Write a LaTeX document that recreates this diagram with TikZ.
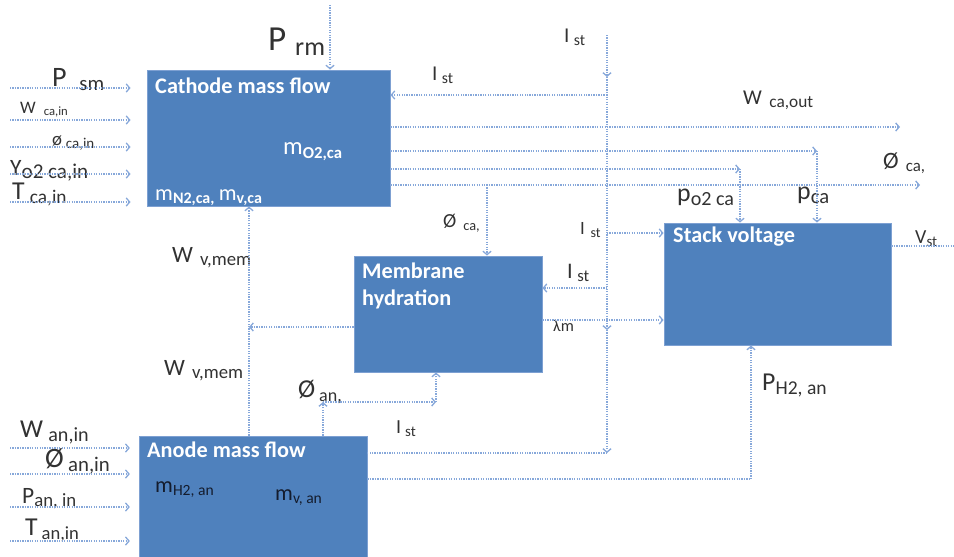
\documentclass[tikz,border=0pt]{standalone}
\usepackage{fontspec}
\setmainfont{Carlito}
\usetikzlibrary{arrows.meta,calc}
\definecolor{BlkFill}{RGB}{79,129,189}
\definecolor{BlkLine}{RGB}{125,160,210}
\definecolor{SigLine}{RGB}{135,168,218}
\definecolor{LblText}{RGB}{50,50,50}
\definecolor{InText} {RGB}{20,28,45}
\tikzset{
  nd_blk/.style={
    rectangle, draw=BlkLine, fill=BlkFill, line width=0.8pt, inner sep=0pt},
  nd_ttl/.style={
    anchor=base west, inner sep=0pt, text=white, align=left,
    font=\fontsize{19}{23}\selectfont\bfseries},
  nd_var/.style={
    anchor=base west, inner sep=0pt, text=white,
    font=\fontsize{21}{23}\selectfont},
  lbl/.style={anchor=base west, inner sep=0pt, text=LblText},
  sig/.style={draw=SigLine, densely dotted, line width=1.1pt},
  arr/.style={sig, -{Straight Barb[length=3pt,width=7pt]}},
}
\newcommand{\signame}[3][0.75]{#2\raisebox{-0.35ex}{\scalebox{#1}{#3}}}
\newcommand{\fs}[1]{\fontsize{#1}{#1}\selectfont}

\begin{document}
\begin{tikzpicture}[x=0.3mm,y=-0.3mm]
\useasboundingbox (0,0) rectangle (954,556);

%% blocks
\node[nd_blk, minimum width=72.9mm, minimum height=40.8mm] (CMF) at (268.5,138) {};
\node[nd_blk, minimum width=56.4mm, minimum height=34.8mm] (MH)  at (448,314) {};
\node[nd_blk, minimum width=68.1mm, minimum height=36.6mm] (SV)  at (777.5,284) {};
\node[nd_blk, minimum width=68.4mm, minimum height=37.2mm] (AMF) at (253,498) {};

\node[nd_ttl] (tCMF) at (155,93)  {Cathode mass flow};
\node[nd_ttl, anchor=north west] (tMH) at (362,263) {Membrane\\hydration};
\node[nd_ttl] (tSV)  at (673,242) {Stack voltage};
\node[nd_ttl] (tAMF) at (147,457) {Anode mass flow};

\node[nd_var] (mO2) at (283,154) {\signame[0.68]{m}{\bfseries O2,ca}};
\node[nd_var, font=\fs{19}] (mN2) at (155,200)
  {\signame[0.72]{m}{\bfseries N2,ca,}\hspace{0.2em}\signame[0.72]{m}{\bfseries v,ca}};
\node[nd_var, text=InText, font=\fs{19}] (mH2) at (155,492) {\signame[0.7]{m}{H2, an}};
\node[nd_var, text=InText, font=\fs{19}] (mvan) at (275,500) {\signame[0.7]{m}{v, an}};

%% free ends
\coordinate (eP)   at (10,88);
\coordinate (eW)   at (10,120);
\coordinate (ePh)  at (10,147);
\coordinate (eY)   at (10,174);
\coordinate (eT)   at (10,202);
\coordinate (eWa)  at (10,448);
\coordinate (ePha) at (10,474);
\coordinate (ePa)  at (10,507);
\coordinate (eTa)  at (10,541);
\coordinate (eRm)  at (330,5);
\coordinate (eIst) at (607,35);
\coordinate (eWo)  at (900,127);
\coordinate (eCa)  at (920,185);
\coordinate (eVst) at (954,246);

%% junctions
\coordinate (jI1) at (607,77);
\coordinate (jI2) at (607,330);
\coordinate (jI3) at (607,453);
\coordinate (jpca) at (817,151);
\coordinate (jpo)  at (740,169);
\coordinate (jca)  at (487,185);
\coordinate (jwm)  at (249,327);
\coordinate (jan1) at (323,402);
\coordinate (jan2) at (436,402);
\coordinate (jH2)  at (751,479);

%% labels
\node[lbl, font=\fs{30}] (lPrm)  at (268,50)  {\signame[0.74]{P\hspace{0.25em}}{rm}};
\node[lbl, font=\fs{24}] (lPsm)  at (52,86)   {\signame[0.74]{P\hspace{0.45em}}{sm}};
\node[lbl, font=\fs{15}] (lWin)  at (20,113)  {\signame[0.72]{W\hspace{0.45em}}{ca,in}};
\node[lbl, font=\fs{16}] (lPhin) at (52,145)  {\signame[0.8]{ø\hspace{0.2em}}{ca,in}};
\node[lbl, font=\fs{20}] (lYin)  at (10,175)  {\signame[0.9]{Y}{o2 ca,in}};
\node[lbl, font=\fs{22}] (lTin)  at (12,199)  {\signame[0.75]{T\hspace{0.2em}}{ca,in}};
\node[lbl, font=\fs{18}] (lI0)   at (564,42)  {\signame{I\hspace{0.2em}}{st}};
\node[lbl, font=\fs{18}] (lI1)   at (432,80)  {\signame{I\hspace{0.2em}}{st}};
\node[lbl, font=\fs{18}] (lWo)   at (743,104) {\signame[0.82]{W\hspace{0.35em}}{ca,out}};
\node[lbl, font=\fs{20}] (lPhca) at (883,168) {\signame[0.72]{Ø\hspace{0.3em}}{ca,}};
\node[lbl, font=\fs{22}] (lpo)   at (677,201) {\signame[0.78]{p}{o2 ca}};
\node[lbl, font=\fs{22}] (lpca)  at (797,199) {\signame[0.8]{p}{ca}};
\node[lbl, font=\fs{17}] (lVst)  at (915,243) {\signame{V}{st}};
\node[lbl, font=\fs{16}] (lI2)   at (580,234) {\signame{I\hspace{0.3em}}{st}};
\node[lbl, font=\fs{19}] (lI3)   at (567,278) {\signame{I\hspace{0.2em}}{st}};
\node[lbl, font=\fs{14}] (llam)  at (553,331) {λm};
\node[lbl, font=\fs{17}] (lPhc2) at (443,227) {\signame[0.72]{Ø\hspace{0.35em}}{ca,}};
\node[lbl, font=\fs{20}] (lWm1)  at (172,262) {\signame[0.8]{W\hspace{0.3em}}{v,mem}};
\node[lbl, font=\fs{20}] (lWm2)  at (164,375) {\signame[0.8]{W\hspace{0.3em}}{v,mem}};
\node[lbl, font=\fs{22}] (lPhan) at (298,397) {\signame[0.7]{Ø\hspace{0.15em}}{an,}};
\node[lbl, font=\fs{17}] (lI4)   at (396,433) {\signame{I\hspace{0.2em}}{st}};
\node[lbl, font=\fs{22}] (lWan)  at (20,437)  {\signame[0.78]{W\hspace{0.2em}}{an,in}};
\node[lbl, font=\fs{24}] (lPhan2) at (45,467) {\signame[0.74]{Ø\hspace{0.15em}}{an,in}};
\node[lbl, font=\fs{20}] (lPan)  at (22,503)  {\signame[0.8]{P}{an, in}};
\node[lbl, font=\fs{22}] (lTan)  at (25,535)  {\signame[0.72]{T\hspace{0.15em}}{an,in}};
\node[lbl, font=\fs{22}] (lPH2)  at (762,390) {\signame[0.76]{P}{H2, an}};

%% inputs
\foreach \e in {eP,eW,ePh,eY,eT}
  {\draw[arr, shorten >=4.8mm] (\e) -- (\e -| CMF.west);}
\foreach \e in {eWa,ePha,ePa,eTa}
  {\draw[arr, shorten >=2.6mm] (\e) -- (\e -| AMF.west);}
\draw[arr] (eRm) -- (eRm |- CMF.north);

%% current
\draw[arr] (eIst)--(jI1);
\draw[arr] (jI1)--(jI2);
\draw[arr] (jI2)--(jI3);
\draw[arr] (jI1 |- 0,95) -- (CMF.east |- 0,95);
\draw[arr] (jI1 |- 0,233) -- (SV.west |- 0,233);
\draw[arr] (jI1 |- 0,288) -- (MH.east |- 0,288);
\draw[sig] (jI3) -- (jI3 -| AMF.east);

%% cathode outputs
\draw[arr] (eWo -| CMF.east) -- (eWo);
\draw[arr] (jpca -| CMF.east) -- (jpca);
\draw[arr] (jpca) -- (jpca |- SV.north);
\draw[arr] (jpo -| CMF.east) -- (jpo);
\draw[arr] (jpo) -- (jpo |- SV.north);
\draw[arr] (eCa -| CMF.east) -- (eCa);
\draw[arr] (jca) -- (jca |- MH.north);
\draw[sig] (SV.east |- eVst) -- (eVst);

%% membrane
\draw[arr] (MH.east |- 0,320) -- (SV.west |- 0,320);
\draw[arr] (MH.west |- jwm) -- (jwm);
\draw[arr] (jwm |- AMF.north) -- (jwm |- CMF.south);

%% anode
\draw[arr] (jan1 |- AMF.north) -- (jan1);
\draw[arr] (jan1) -- (jan2);
\draw[arr] (jan2) -- (jan2 |- MH.south);
\draw[sig] (AMF.east |- jH2) -- (jH2);
\draw[arr] (jH2) -- (jH2 |- SV.south);

\end{tikzpicture}
\end{document}
